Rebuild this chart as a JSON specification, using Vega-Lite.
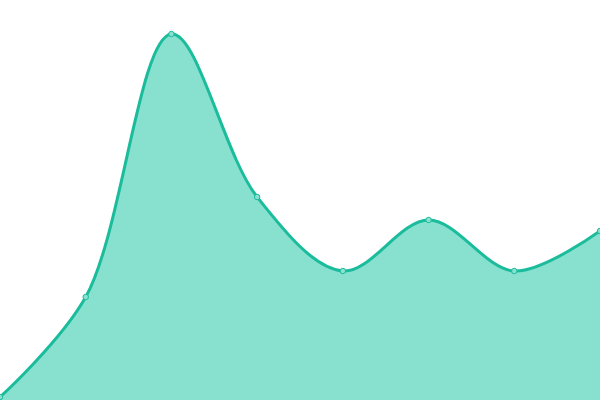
{
  "$schema": "https://vega.github.io/schema/vega-lite/v6.json",
  "width": 600,
  "height": 400,
  "padding": 0,
  "autosize": {"type": "none"},
  "background": "white",
  "data": {
    "values": [
      {"x": 0, "y": 0.75},
      {"x": 1, "y": 25.75},
      {"x": 2, "y": 91.5},
      {"x": 3, "y": 50.75},
      {"x": 4, "y": 32.25},
      {"x": 5, "y": 45},
      {"x": 6, "y": 32.25},
      {"x": 7, "y": 42.25}
    ]
  },
  "encoding": {
    "x": {"field": "x", "type": "quantitative", "axis": null, "scale": {"domain": [0, 7], "nice": false}},
    "y": {"field": "y", "type": "quantitative", "axis": null, "scale": {"domain": [0, 100], "nice": false}}
  },
  "layer": [
    {"mark": {"type": "area", "interpolate": "catmull-rom", "color": "#88e0cf", "opacity": 1}},
    {"mark": {"type": "line", "interpolate": "catmull-rom", "color": "#1abc9c", "strokeWidth": 3}},
    {"mark": {"type": "point", "filled": true, "fill": "#8ce0cf", "stroke": "#1abc9c", "strokeWidth": 1, "size": 30, "opacity": 1}}
  ],
  "config": {"view": {"stroke": null}}
}
